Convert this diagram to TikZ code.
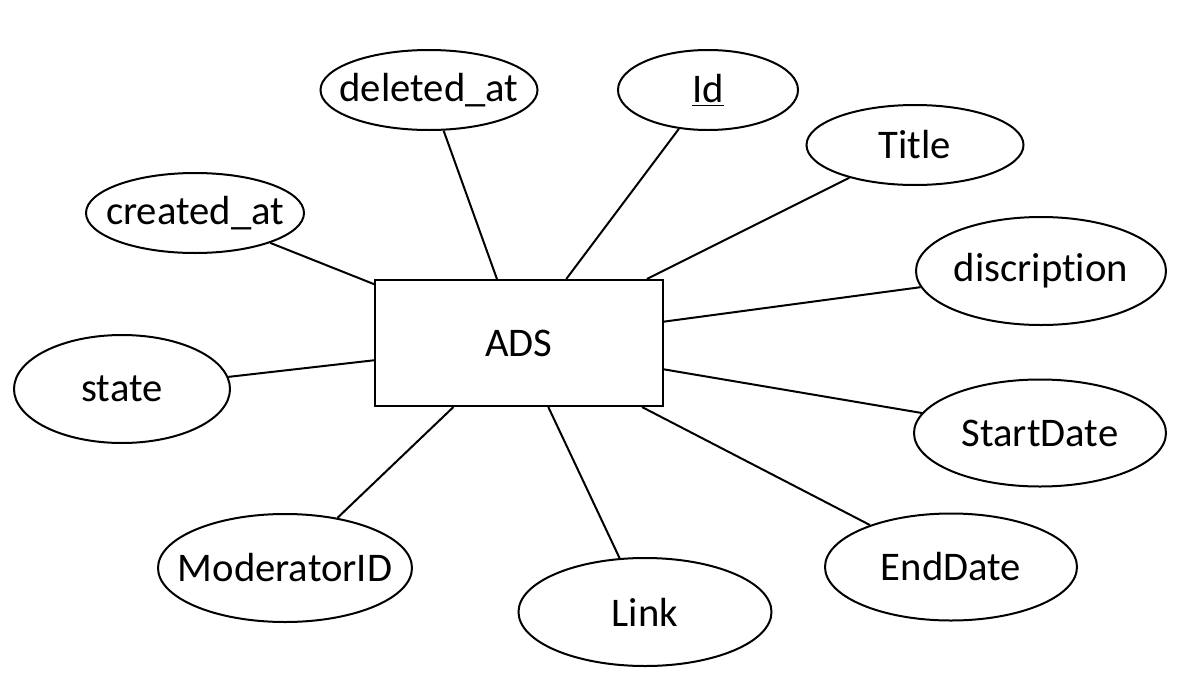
\documentclass[tikz,border=0pt]{standalone}
\usepackage{fontspec}
\setmainfont{Carlito}[Ligatures={NoCommon,NoContextual}]
\usetikzlibrary{shapes.geometric,calc}
\newcommand{\zw}[1]{\makebox[0pt]{#1}}
\begin{document}
\begin{tikzpicture}[x=0.75pt,y=-0.75pt,
  lw/.style={line width=1.5pt},
  ell/.style 2 args={ellipse,draw,lw,inner sep=0pt,minimum width=#1*0.75pt,minimum height=#2*0.75pt,font=\fontsize{30.5}{36}\selectfont},
  ent/.style={rectangle,draw,lw,inner sep=0pt,minimum width=288*0.75pt,minimum height=126*0.75pt,font=\fontsize{30.5}{36}\selectfont},
  conn/.style={lw}]
\useasboundingbox (0,0) rectangle (1183,693);
\node[ent] (ads) at (519,343) {ADS};
\node[ell={217}{80}] (del) at (429,90) {\zw{deleted\_at}};
\node[ell={180}{80}] (id) at (708,90) {\zw{\underline{Id}}};
\node[ell={217}{80}] (title) at (915,145) {\zw{Title}};
\node[ell={218}{80}] (cre) at (195,213) {\zw{created\_at}};
\node[ell={250}{108}] (desc) at (1041,271) {\zw{discription}};
\node[ell={216}{108}] (state) at (122,389) {\zw{state}};
\node[ell={252}{107}] (start) at (1040,433) {\zw{StartDate}};
\node[ell={254}{108}] (mod) at (285,568) {\zw{ModeratorID}};
\node[ell={253}{108}] (link) at (645,612) {\zw{Link}};
\node[ell={252}{107}] (end) at (951,567) {\zw{EndDate}};
\draw[conn] ($(ads.north west)!0.424!(ads.north east)$) -- (del);
\draw[conn] ($(ads.north west)!0.663!(ads.north east)$) -- (id);
\draw[conn] ($(ads.north west)!0.941!(ads.north east)$) -- (title);
\draw[conn] ($(ads.north east)!0.333!(ads.south east)$) -- (desc);
\draw[conn] ($(ads.north east)!0.706!(ads.south east)$) -- (start);
\draw[conn] ($(ads.south west)!0.924!(ads.south east)$) -- (end);
\draw[conn] ($(ads.south west)!0.601!(ads.south east)$) -- (link);
\draw[conn] ($(ads.south west)!0.274!(ads.south east)$) -- (mod);
\draw[conn] ($(ads.north west)!0.635!(ads.south west)$) -- (state);
\draw[conn] ($(ads.north west)!0.04!(ads.south west)$) -- (cre);
\end{tikzpicture}
\end{document}
